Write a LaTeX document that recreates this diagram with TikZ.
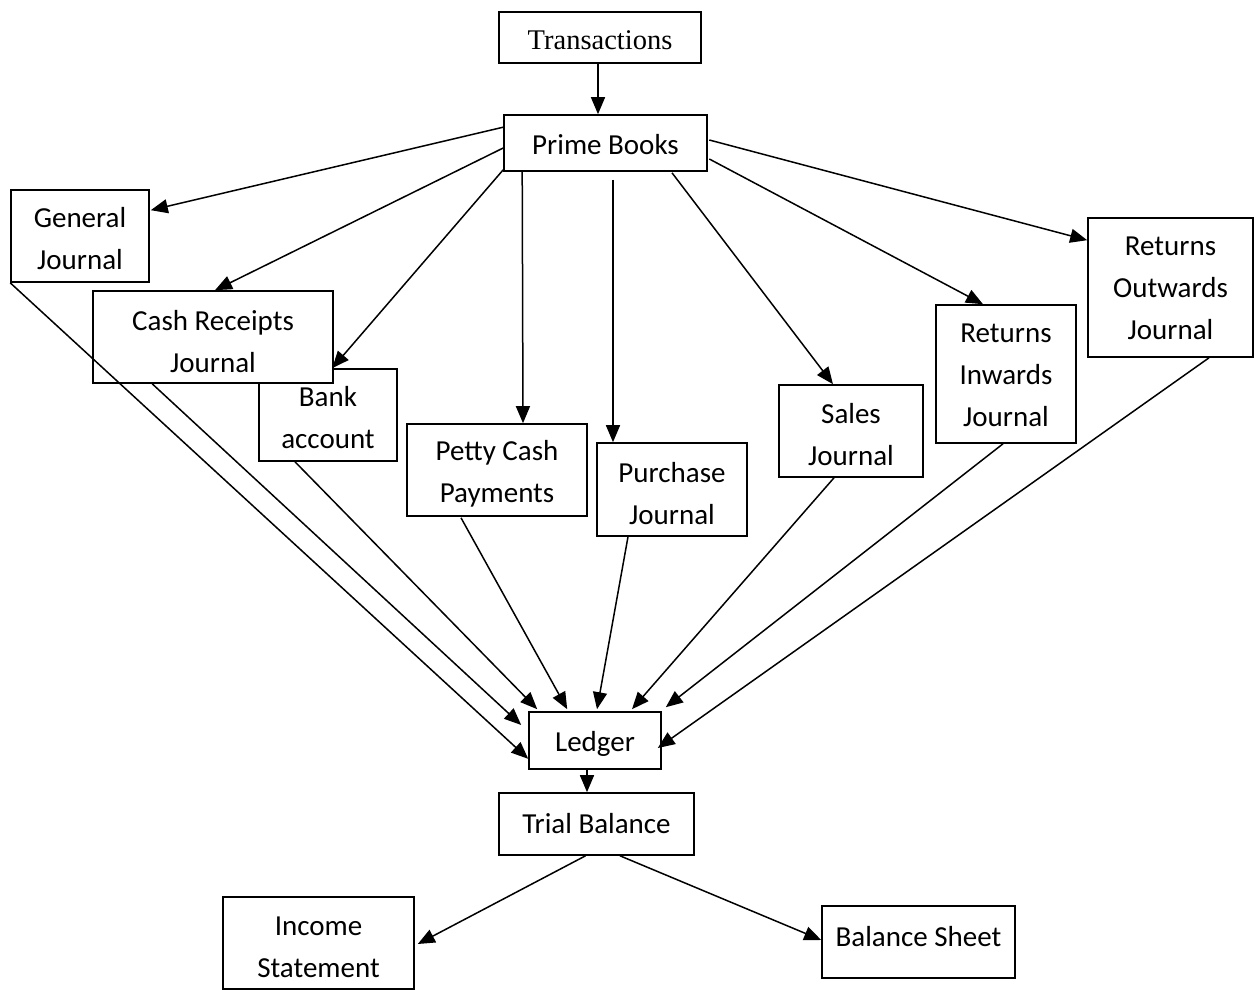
\documentclass[tikz,border=0pt]{standalone}
\usepackage{fontspec}
\setmainfont{Carlito}
\newfontfamily\timesfont{Liberation Serif}
\usetikzlibrary{arrows.meta,calc}
\begin{document}
\begin{tikzpicture}[x=1pt,y=-1pt,
  box/.style={draw,line width=1.6pt,fill=white,inner sep=0pt},
  txt/.style={align=center,inner sep=0pt,font=\fontsize{29}{42}\selectfont},
  flow/.style={line width=1.5pt,-{Triangle[length=17pt,width=14pt]}}]
\useasboundingbox (0,0) rectangle (1258,990);

% boxes (Bank account drawn first so Cash Receipts sits on top of it);
% each caption sits at the box centre, nudged down a little
\node[box,minimum width=202,minimum height=51,
  label={[txt,yshift=-3pt,font=\timesfont\fontsize{28.5}{34}\selectfont]center:Transactions}] (trans) at (600,37.5) {};
\node[box,minimum width=203,minimum height=56,
  label={[txt,yshift=-2pt]center:Prime Books}] (prime) at (605.5,143) {};
\node[box,minimum width=138,minimum height=92,
  label={[txt,yshift=-3pt]center:General\\Journal}] (general) at (80,236) {};
\node[box,minimum width=138,minimum height=92,
  label={[txt,yshift=-3pt]center:Bank\\account}] (bank) at (328,415) {};
\node[box,minimum width=240,minimum height=92,
  label={[txt,yshift=-5pt]center:Cash Receipts\\Journal}] (cash) at (213,337) {};
\node[box,minimum width=180,minimum height=92,
  label={[txt,yshift=-4pt]center:Petty Cash\\Payments}] (petty) at (497,470) {};
\node[box,minimum width=150,minimum height=93,
  label={[txt,yshift=-4pt]center:Purchase\\Journal}] (purchase) at (672,489.5) {};
\node[box,minimum width=144,minimum height=92,
  label={[txt,yshift=-4pt]center:Sales\\Journal}] (sales) at (851,431) {};
\node[box,minimum width=140,minimum height=138,
  label={[txt,yshift=-1pt]center:Returns\\Inwards\\Journal}] (inwards) at (1006,374) {};
\node[box,minimum width=165,minimum height=139,
  label={[txt,yshift=-1pt]center:Returns\\Outwards\\Journal}] (outwards) at (1170.5,287.5) {};
\node[box,minimum width=132,minimum height=57,
  label={[txt,yshift=-3pt]center:Ledger}] (ledger) at (595,740.5) {};
\node[box,minimum width=195,minimum height=62,
  label={[txt,yshift=0pt]center:Trial Balance}] (trial) at (596.5,824) {};
\node[box,minimum width=191,minimum height=92,
  label={[txt,yshift=-4pt]center:Income\\Statement}] (income) at (318.5,943) {};
\node[box,minimum width=193,minimum height=72,
  label={[txt,yshift=5pt]center:Balance Sheet}] (balance) at (918.5,942) {};

% transactions into the prime books
\draw[flow] ($(trans.south)+(-2,0)$) -- ($(prime.north)+(-7.5,0)$);

% prime books out to each journal
\draw[flow] ($(prime.north west)+(0,13)$) -- ($(general.north east)+(1,21)$);
\draw[flow] ($(prime.west)+(0,5)$) -- ($(cash.north)+(2,0)$);
\draw[flow] ($(prime.south west)+(0,-2)$) -- ($(bank.north west)+(74,0)$);
\draw[flow] ($(prime.south west)+(19,0)$) -- ($(petty.north)+(26,0)$);
\draw[flow] ($(prime.south)+(7.5,8)$) -- ($(purchase.north)+(-59,0)$);
\draw[flow] ($(prime.south)+(66.5,1)$) -- ($(sales.north)+(-18,0)$);
\draw[flow] ($(prime.east)+(1.5,16)$) -- ($(inwards.north)+(-23,0)$);
\draw[flow] ($(prime.east)+(1.5,-3)$) -- ($(outwards.north west)+(0,23)$);

% journals posted to the ledger
\draw[flow] (general.south west) -- ($(ledger.south west)+(0,-11)$);
\draw[flow] ($(cash.south west)+(60,0)$) -- ($(ledger.west)+(-7,-15.5)$);
\draw[flow] ($(bank.south)+(-33,0)$) -- ($(ledger.north west)+(9,-2)$);
\draw[flow] ($(petty.south)+(-36,1)$) -- ($(ledger.north west)+(39,-2)$);
\draw[flow] ($(purchase.south)+(-44,0)$) -- ($(ledger.north)+(2,-2)$);
\draw[flow] ($(sales.south)+(-17,0)$) -- ($(ledger.north)+(37,-2)$);
\draw[flow] ($(inwards.south)+(-3,0)$) -- ($(ledger.north east)+(4,-4)$);
\draw[flow] ($(outwards.south)+(38.5,0)$) -- ($(ledger.east)+(-4,7.5)$);

% ledger to trial balance to the statements
\draw[flow] ($(ledger.south)+(-8,0)$) -- ($(trial.north)+(-9.5,0)$);
\draw[flow] ($(trial.south)+(-11,0)$) -- ($(income.east)+(3,1)$);
\draw[flow] ($(trial.south)+(23.5,0)$) -- ($(balance.west)+(0,-2)$);
\end{tikzpicture}
\end{document}
